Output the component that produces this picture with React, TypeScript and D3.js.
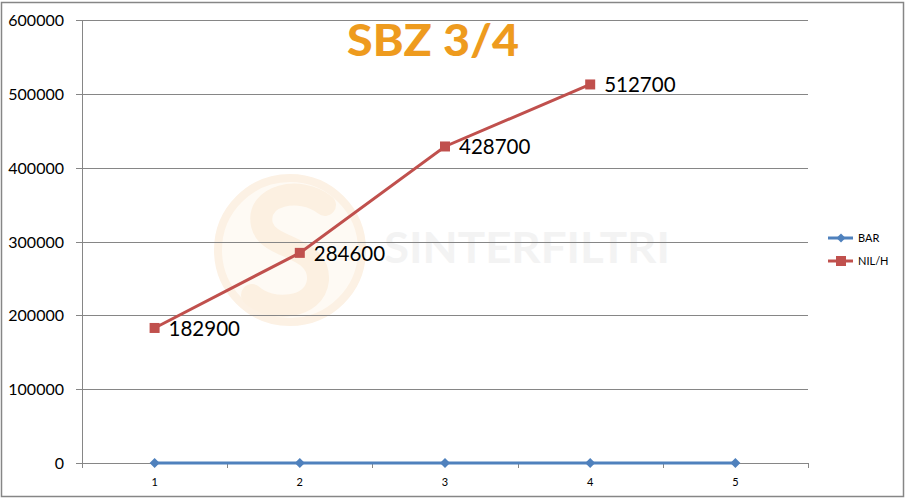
import React from "react";
import * as d3 from "d3";

const categories = ["1", "2", "3", "4", "5"];
const barValues = [0, 0, 0, 0, 0];
const nilValues = [182900, 284600, 428700, 512700];
const yTicks = [0, 100000, 200000, 300000, 400000, 500000, 600000];
const seriesNames = ["BAR", "NIL/H"];
const title = "SBZ 3/4";

export default function App() {
  const W = 906, H = 500;
  const left = 82, right = 808, top = 20, bottom = 463;
  const x = d3.scaleBand<string>().domain(categories).range([left, right]);
  const cx = (c: string) => (x(c) as number) + x.bandwidth() / 2;
  const y = d3.scaleLinear().domain([0, 600000]).range([bottom, top]);
  const line = d3.line<[number, number]>().x(d => d[0]).y(d => d[1]);
  const blue = "#4F81BD", red = "#C0504D";
  const barPts: [number, number][] = barValues.map((v, i) => [cx(categories[i]), y(v)]);
  const nilPts: [number, number][] = nilValues.map((v, i) => [cx(categories[i]), y(v)]);
  const font = "Lato, 'Open Sans', sans-serif";
  const diamond = (px: number, py: number, r: number) => `M${px},${py - r}L${px + r},${py}L${px},${py + r}L${px - r},${py}Z`;
  const bounds = [left, ...categories.map(c => (x(c) as number) + x.bandwidth())];
  return (
    <svg width={W} height={H} style={{ position: "absolute", left: 0, top: 0 }} fontFamily={font}>
      <rect x={0} y={0} width={W} height={H} fill="#fff" />
      <rect x={1.5} y={2.5} width={902} height={494} fill="none" stroke="#868686" strokeWidth={1.5} />
      {/* watermark */}
      <g>
        <circle cx={290} cy={250} r={72} fill="#FEFAF4" stroke="#FCF1E4" strokeWidth={8} />
        <path d="M325,205 C300,185 255,195 262,225 C268,250 320,245 318,280 C315,310 270,312 252,295" fill="none" stroke="#FCF0E1" strokeWidth={22} strokeLinecap="round" />
        <text x={384} y={263} fontSize={42} fontWeight="bold" fill="#F3F3F3" textLength={286} lengthAdjust="spacingAndGlyphs">SINTERFILTRI</text>
      </g>
      {/* gridlines */}
      {yTicks.map(t => (
        <line key={t} x1={left - 6} x2={right} y1={Math.round(y(t)) + 0.5} y2={Math.round(y(t)) + 0.5} stroke="#868686" strokeWidth={1} />
      ))}
      <line x1={left + 0.5} x2={left + 0.5} y1={top} y2={bottom + 5} stroke="#868686" />
      {bounds.map((b, i) => (
        <line key={i} x1={Math.round(b) + 0.5} x2={Math.round(b) + 0.5} y1={bottom} y2={bottom + 5} stroke="#868686" />
      ))}
      {yTicks.map(t => (
        <text key={t} x={64} y={y(t) + 6} fontSize={16} textAnchor="end" fill="#000">{t}</text>
      ))}
      {categories.map(c => (
        <text key={c} x={cx(c)} y={486} fontSize={11} textAnchor="middle" fill="#000">{c}</text>
      ))}
      <text x={433} y={56} fontSize={44} fontWeight="900" fill="#EE9B1E" textAnchor="middle" textLength={172} lengthAdjust="spacingAndGlyphs">{title}</text>
      {/* series */}
      <path d={line(nilPts) || ""} fill="none" stroke={red} strokeWidth={3} />
      {nilPts.map((p, i) => (
        <rect key={i} x={p[0] - 5} y={p[1] - 5} width={10} height={10} fill={red} />
      ))}
      {nilPts.map((p, i) => (
        <text key={"l" + i} x={p[0] + 14} y={p[1] + 8} fontSize={20.5} fill="#000">{nilValues[i]}</text>
      ))}
      <path d={line(barPts) || ""} fill="none" stroke={blue} strokeWidth={3} />
      {barPts.map((p, i) => (
        <path key={i} d={diamond(p[0], p[1], 5)} fill={blue} />
      ))}
      {/* legend */}
      <line x1={828} x2={853} y1={238} y2={238} stroke={blue} strokeWidth={3} />
      <path d={diamond(841, 238, 4.5)} fill={blue} />
      <text x={858} y={242} fontSize={11} fill="#000">{seriesNames[0]}</text>
      <line x1={828} x2={853} y1={261} y2={261} stroke={red} strokeWidth={3} />
      <rect x={836} y={256} width={10} height={10} fill={red} />
      <text x={858} y={265} fontSize={11} fill="#000">{seriesNames[1]}</text>
    </svg>
  );
}
